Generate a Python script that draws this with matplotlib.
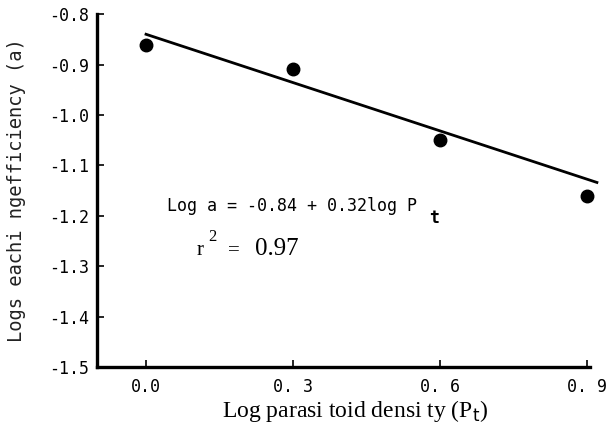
import matplotlib.pyplot as plt

# data
log_pt = [0.0, 0.3, 0.6, 0.9]
log_a = [-0.862, -0.909, -1.05, -1.16]

# fitted line end points
fit_x = [0.0, 0.92]
fit_y = [-0.84, -1.134]

xticks = [0.0, 0.3, 0.6, 0.9]
xticklabels = ["0.0", "0. 3", "0. 6", "0. 9"]
yticks = [-0.8, -0.9, -1.0, -1.1, -1.2, -1.3, -1.4, -1.5]
yticklabels = ["-0.8", "-0.9", "-1.0", "-1.1", "-1.2", "-1.3", "-1.4", "-1.5"]

fig = plt.figure(figsize=(6.14, 4.41), dpi=100)
ax = fig.add_axes([0.158, 0.168, 0.803, 0.8])

ax.plot(fit_x, fit_y, color="black", lw=2, clip_on=False)
ax.plot(log_pt, log_a, "o", color="black", ms=9, clip_on=False)

ax.set_xlim(-0.1, 0.906)
ax.set_ylim(-1.5, -0.8)

ax.spines["top"].set_visible(False)
ax.spines["right"].set_visible(False)
ax.spines["left"].set_linewidth(2.4)
ax.spines["bottom"].set_linewidth(2.4)

ax.set_xticks(xticks)
ax.set_xticklabels(xticklabels, family="DejaVu Sans Mono", fontsize=12)
ax.set_yticks(yticks)
ax.set_yticklabels(yticklabels, family="DejaVu Sans Mono", fontsize=12)
ax.tick_params(axis="both", direction="in", length=5, width=1.2)
ax.tick_params(axis="x", pad=8)
ax.tick_params(axis="y", pad=6)

ax.set_ylabel("Logs eachi ngefficiency (a)", family="DejaVu Sans Mono", fontsize=13.5,
              color="#222222")
ax.yaxis.set_label_coords(-0.145, 0.5)
ax.set_xlabel("Log parasi toid densi ty (P$_{\\mathrm{t}}$)", family="Liberation Serif",
              fontsize=17)
ax.xaxis.set_label_coords(0.523, -0.088)

mono = dict(family="DejaVu Sans Mono", fontsize=12)
ax.text(0.043, -1.191, "Log a = -0.84 + 0.32log P", **mono)
ax.text(0.578, -1.215, "t", family="DejaVu Sans Mono", fontsize=12, weight="bold")
ax.text(0.104, -1.278, "r", family="Liberation Serif", fontsize=15)
ax.text(0.126, -1.25, "2", family="Liberation Serif", fontsize=12)
ax.text(0.168, -1.278, "=", family="Liberation Serif", fontsize=15)
ax.text(0.222, -1.278, "0.97", family="Liberation Serif", fontsize=18)

fig.savefig("out.png", dpi=100)
